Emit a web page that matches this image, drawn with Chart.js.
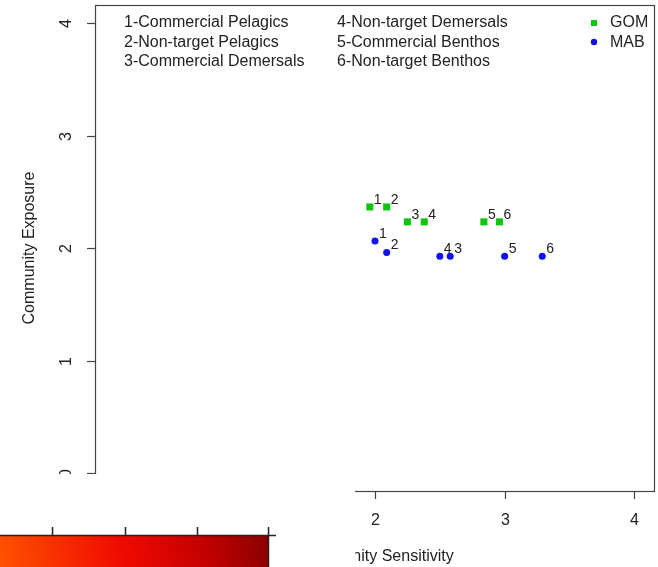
<!DOCTYPE html>
<html>
<head>
<meta charset="utf-8">
<script src="https://cdn.jsdelivr.net/npm/chart.js@4/dist/chart.umd.min.js"></script>
<style>
  body { margin: 0; background: #fff; }
  #wrap { width: 658px; height: 567px; }
</style>
</head>
<body>
<div id="wrap"><canvas id="chart" width="658" height="567"></canvas></div>
<script>
const pointLabels = ["1", "2", "3", "4", "5", "6"];
const groupNames = ["1-Commercial Pelagics", "2-Non-target Pelagics", "3-Commercial Demersals",
                    "4-Non-target Demersals", "5-Commercial Benthos", "6-Non-target Benthos"];
const seriesNames = ["GOM", "MAB"];
const gomX = [1.96, 2.09, 2.25, 2.38, 2.84, 2.96];
const gomY = [2.365, 2.365, 2.232, 2.232, 2.232, 2.232];
const mabX = [2.00, 2.09, 2.58, 2.50, 3.00, 3.29];
const mabY = [2.063, 1.96, 1.927, 1.927, 1.927, 1.927];
const xTicks = [0, 1, 2, 3, 4];
const yTicks = [0, 1, 2, 3, 4];
const xTitle = "Community Sensitivity";
const yTitle = "Community Exposure";

const green = "#12c412";
const blue = "#1010f0";
const font = "'Liberation Sans', Arial, sans-serif";

function toPoints(xs, ys) {
  return xs.map((x, i) => ({ x: x, y: ys[i] }));
}

// axes, labels, in-plot legend, and the colour bar pasted over the corner
const decor = {
  id: "decor",
  afterDatasetsDraw(chart) {
    const ctx = chart.ctx;
    const a = chart.chartArea;
    const xs = chart.scales.x;
    const ys = chart.scales.y;
    ctx.save();

    // point numbers
    ctx.fillStyle = "#222";
    ctx.font = "14px " + font;
    ctx.textAlign = "left";
    ctx.textBaseline = "middle";
    chart.data.datasets.forEach((ds, di) => {
      const meta = chart.getDatasetMeta(di);
      meta.data.forEach((pt, i) => {
        ctx.fillText(pointLabels[i], pt.x + 4, pt.y - 7);
      });
    });

    // box
    ctx.strokeStyle = "#444";
    ctx.lineWidth = 1.2;
    ctx.strokeRect(a.left + 0.5, a.top + 0.5, a.right - a.left - 1, a.bottom - a.top);

    // y axis
    ctx.fillStyle = "#222";
    ctx.font = "16px " + font;
    yTicks.forEach(v => {
      const py = Math.round(ys.getPixelForValue(v)) + 0.5;
      ctx.beginPath();
      ctx.moveTo(a.left - 8, py);
      ctx.lineTo(a.left, py);
      ctx.stroke();
      ctx.save();
      ctx.translate(67, py);
      ctx.rotate(-Math.PI / 2);
      ctx.textAlign = "center";
      ctx.textBaseline = "middle";
      ctx.fillText(String(v), 0, 0);
      ctx.restore();
    });
    ctx.save();
    ctx.translate(30, (a.top + a.bottom) / 2);
    ctx.rotate(-Math.PI / 2);
    ctx.textAlign = "center";
    ctx.textBaseline = "middle";
    ctx.fillText(yTitle, 0, 0);
    ctx.restore();

    // x axis
    xTicks.forEach(v => {
      const px = Math.round(xs.getPixelForValue(v)) + 0.5;
      ctx.beginPath();
      ctx.moveTo(px, a.bottom);
      ctx.lineTo(px, a.bottom + 8);
      ctx.stroke();
      ctx.textAlign = "center";
      ctx.textBaseline = "middle";
      ctx.fillText(String(v), px, 521);
    });
    ctx.fillText(xTitle, (a.left + a.right) / 2, 557);

    // group legend (two columns of text)
    ctx.textAlign = "left";
    ctx.textBaseline = "middle";
    groupNames.forEach((name, i) => {
      const col = Math.floor(i / 3);
      const row = i % 3;
      ctx.fillText(name, col === 0 ? 124 : 337, 23 + row * 19.5);
    });

    // series legend
    ctx.fillStyle = green;
    ctx.fillRect(591, 20, 6, 6);
    ctx.fillStyle = blue;
    ctx.beginPath();
    ctx.arc(594, 42, 3.2, 0, Math.PI * 2);
    ctx.fill();
    ctx.fillStyle = "#222";
    ctx.fillText(seriesNames[0], 610, 23);
    ctx.fillText(seriesNames[1], 610, 42.5);

    // white patch + colour bar over bottom-left corner
    ctx.fillStyle = "#fff";
    ctx.fillRect(0, 474, 355, 567 - 474);
    const g = ctx.createLinearGradient(0, 567, 268, 520);
    g.addColorStop(0, "#ff5200");
    g.addColorStop(0.45, "#f00a00");
    g.addColorStop(0.75, "#c40000");
    g.addColorStop(1, "#880000");
    ctx.fillStyle = g;
    ctx.fillRect(0, 536, 268, 31);
    ctx.strokeStyle = "#222";
    ctx.lineWidth = 1.5;
    ctx.beginPath();
    ctx.moveTo(0, 535.5);
    ctx.lineTo(276, 535.5);
    ctx.moveTo(268.5, 527);
    ctx.lineTo(268.5, 567);
    [52, 125, 197].forEach(tx => {
      ctx.moveTo(tx + 0.5, 527);
      ctx.lineTo(tx + 0.5, 535);
    });
    ctx.stroke();

    ctx.restore();
  }
};

new Chart(document.getElementById("chart"), {
  type: "scatter",
  data: {
    datasets: [
      {
        label: seriesNames[0],
        data: toPoints(gomX, gomY),
        pointStyle: "rect",
        pointRadius: 5,
        backgroundColor: green,
        borderWidth: 0
      },
      {
        label: seriesNames[1],
        data: toPoints(mabX, mabY),
        pointStyle: "circle",
        pointRadius: 3.5,
        backgroundColor: blue,
        borderWidth: 0
      }
    ]
  },
  options: {
    responsive: false,
    animation: false,
    devicePixelRatio: 1,
    layout: { autoPadding: false, padding: { left: 95, top: 5, right: 3, bottom: 76 } },
    plugins: { legend: { display: false }, tooltip: { enabled: false } },
    scales: {
      x: { type: "linear", min: -0.16, max: 4.16, display: false },
      y: { type: "linear", min: -0.16, max: 4.16, display: false }
    }
  },
  plugins: [decor]
});
</script>
</body>
</html>
